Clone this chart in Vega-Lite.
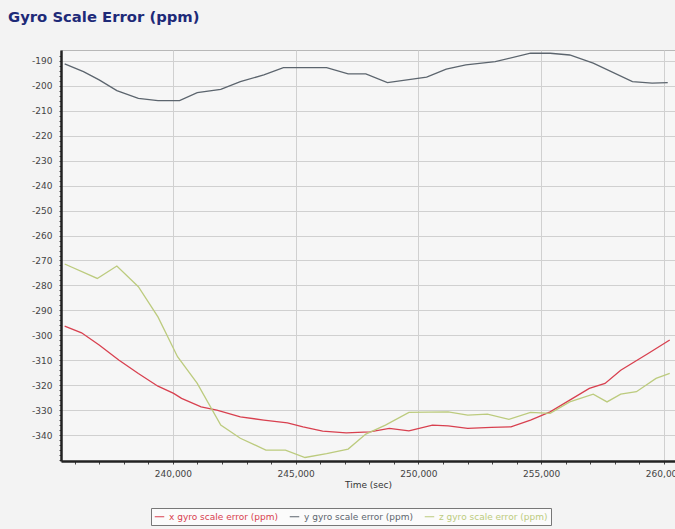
{
  "$schema": "https://vega.github.io/schema/vega-lite/v6.json",
  "autosize": {"type": "none"},
  "width": 614,
  "height": 411,
  "padding": {"left": 61, "top": 50, "right": 0, "bottom": 68},
  "background": "#f3f3f3",
  "title": {
    "text": "Gyro Scale Error (ppm)",
    "anchor": "start",
    "frame": "group",
    "dx": -53,
    "offset": 25,
    "font": "DejaVu Sans",
    "fontSize": 14.8,
    "fontWeight": "bold",
    "color": "#1e2a78"
  },
  "config": {
    "view": {"fill": "#f6f6f6", "stroke": "#b8b8b8", "strokeWidth": 1},
    "axis": {"labelFont": "DejaVu Sans", "titleFont": "DejaVu Sans", "labelColor": "#444", "titleColor": "#333", "labelFontSize": 9, "titleFontSize": 9, "titleFontWeight": "normal"}
  },
  "data": {"values": [
    {"series": "y gyro scale error (ppm)", "t": 235589, "v": -191.2},
    {"series": "y gyro scale error (ppm)", "t": 236355, "v": -194.3},
    {"series": "y gyro scale error (ppm)", "t": 236994, "v": -197.6},
    {"series": "y gyro scale error (ppm)", "t": 237715, "v": -201.9},
    {"series": "y gyro scale error (ppm)", "t": 238591, "v": -205.0},
    {"series": "y gyro scale error (ppm)", "t": 239389, "v": -205.9},
    {"series": "y gyro scale error (ppm)", "t": 240269, "v": -205.9},
    {"series": "y gyro scale error (ppm)", "t": 240990, "v": -202.7},
    {"series": "y gyro scale error (ppm)", "t": 241947, "v": -201.4},
    {"series": "y gyro scale error (ppm)", "t": 242745, "v": -198.3},
    {"series": "y gyro scale error (ppm)", "t": 243702, "v": -195.6},
    {"series": "y gyro scale error (ppm)", "t": 244500, "v": -192.7},
    {"series": "y gyro scale error (ppm)", "t": 246260, "v": -192.7},
    {"series": "y gyro scale error (ppm)", "t": 247136, "v": -195.2},
    {"series": "y gyro scale error (ppm)", "t": 247857, "v": -195.2},
    {"series": "y gyro scale error (ppm)", "t": 248737, "v": -198.7},
    {"series": "y gyro scale error (ppm)", "t": 250333, "v": -196.5},
    {"series": "y gyro scale error (ppm)", "t": 251132, "v": -193.3},
    {"series": "y gyro scale error (ppm)", "t": 251930, "v": -191.6},
    {"series": "y gyro scale error (ppm)", "t": 253128, "v": -190.3},
    {"series": "y gyro scale error (ppm)", "t": 254565, "v": -186.9},
    {"series": "y gyro scale error (ppm)", "t": 255364, "v": -186.9},
    {"series": "y gyro scale error (ppm)", "t": 256162, "v": -187.6},
    {"series": "y gyro scale error (ppm)", "t": 257119, "v": -190.9},
    {"series": "y gyro scale error (ppm)", "t": 258716, "v": -198.3},
    {"series": "y gyro scale error (ppm)", "t": 259518, "v": -198.9},
    {"series": "y gyro scale error (ppm)", "t": 260154, "v": -198.7},
    {"series": "x gyro scale error (ppm)", "t": 235589, "v": -296.3},
    {"series": "x gyro scale error (ppm)", "t": 236277, "v": -299.0},
    {"series": "x gyro scale error (ppm)", "t": 236994, "v": -303.9},
    {"series": "x gyro scale error (ppm)", "t": 237792, "v": -309.9},
    {"series": "x gyro scale error (ppm)", "t": 238591, "v": -315.3},
    {"series": "x gyro scale error (ppm)", "t": 239389, "v": -320.4},
    {"series": "x gyro scale error (ppm)", "t": 240028, "v": -323.3},
    {"series": "x gyro scale error (ppm)", "t": 240350, "v": -325.3},
    {"series": "x gyro scale error (ppm)", "t": 241148, "v": -328.7},
    {"series": "x gyro scale error (ppm)", "t": 241788, "v": -330.0},
    {"series": "x gyro scale error (ppm)", "t": 242745, "v": -332.7},
    {"series": "x gyro scale error (ppm)", "t": 243702, "v": -334.0},
    {"series": "x gyro scale error (ppm)", "t": 244663, "v": -335.1},
    {"series": "x gyro scale error (ppm)", "t": 245299, "v": -336.7},
    {"series": "x gyro scale error (ppm)", "t": 246097, "v": -338.4},
    {"series": "x gyro scale error (ppm)", "t": 247059, "v": -339.1},
    {"series": "x gyro scale error (ppm)", "t": 248016, "v": -338.7},
    {"series": "x gyro scale error (ppm)", "t": 248814, "v": -337.3},
    {"series": "x gyro scale error (ppm)", "t": 249612, "v": -338.3},
    {"series": "x gyro scale error (ppm)", "t": 250570, "v": -336.0},
    {"series": "x gyro scale error (ppm)", "t": 251209, "v": -336.3},
    {"series": "x gyro scale error (ppm)", "t": 252007, "v": -337.3},
    {"series": "x gyro scale error (ppm)", "t": 252968, "v": -336.9},
    {"series": "x gyro scale error (ppm)", "t": 253767, "v": -336.7},
    {"series": "x gyro scale error (ppm)", "t": 254565, "v": -334.0},
    {"series": "x gyro scale error (ppm)", "t": 255364, "v": -330.7},
    {"series": "x gyro scale error (ppm)", "t": 256162, "v": -326.0},
    {"series": "x gyro scale error (ppm)", "t": 256960, "v": -321.3},
    {"series": "x gyro scale error (ppm)", "t": 257600, "v": -319.3},
    {"series": "x gyro scale error (ppm)", "t": 258239, "v": -314.0},
    {"series": "x gyro scale error (ppm)", "t": 259355, "v": -307.3},
    {"series": "x gyro scale error (ppm)", "t": 260235, "v": -301.9},
    {"series": "z gyro scale error (ppm)", "t": 235589, "v": -271.4},
    {"series": "z gyro scale error (ppm)", "t": 236917, "v": -277.2},
    {"series": "z gyro scale error (ppm)", "t": 237715, "v": -272.2},
    {"series": "z gyro scale error (ppm)", "t": 238591, "v": -280.5},
    {"series": "z gyro scale error (ppm)", "t": 239389, "v": -292.6},
    {"series": "z gyro scale error (ppm)", "t": 240187, "v": -308.6},
    {"series": "z gyro scale error (ppm)", "t": 240990, "v": -319.3},
    {"series": "z gyro scale error (ppm)", "t": 241947, "v": -336.0},
    {"series": "z gyro scale error (ppm)", "t": 242745, "v": -341.3},
    {"series": "z gyro scale error (ppm)", "t": 243784, "v": -346.0},
    {"series": "z gyro scale error (ppm)", "t": 244582, "v": -346.0},
    {"series": "z gyro scale error (ppm)", "t": 245380, "v": -349.0},
    {"series": "z gyro scale error (ppm)", "t": 246260, "v": -347.4},
    {"series": "z gyro scale error (ppm)", "t": 247136, "v": -345.6},
    {"series": "z gyro scale error (ppm)", "t": 247857, "v": -339.6},
    {"series": "z gyro scale error (ppm)", "t": 248655, "v": -336.0},
    {"series": "z gyro scale error (ppm)", "t": 249612, "v": -330.9},
    {"series": "z gyro scale error (ppm)", "t": 251209, "v": -330.7},
    {"series": "z gyro scale error (ppm)", "t": 252007, "v": -332.0},
    {"series": "z gyro scale error (ppm)", "t": 252809, "v": -331.6},
    {"series": "z gyro scale error (ppm)", "t": 253685, "v": -333.7},
    {"series": "z gyro scale error (ppm)", "t": 254565, "v": -330.9},
    {"series": "z gyro scale error (ppm)", "t": 255364, "v": -331.3},
    {"series": "z gyro scale error (ppm)", "t": 256162, "v": -326.7},
    {"series": "z gyro scale error (ppm)", "t": 257119, "v": -323.6},
    {"series": "z gyro scale error (ppm)", "t": 257681, "v": -326.7},
    {"series": "z gyro scale error (ppm)", "t": 258239, "v": -323.6},
    {"series": "z gyro scale error (ppm)", "t": 258878, "v": -322.6},
    {"series": "z gyro scale error (ppm)", "t": 259677, "v": -317.3},
    {"series": "z gyro scale error (ppm)", "t": 260235, "v": -315.3}
  ]},
  "mark": {"type": "line", "strokeWidth": 1.3, "clip": true},
  "encoding": {
    "x": {
      "field": "t", "type": "quantitative",
      "scale": {"domain": [235440, 260450], "nice": false, "zero": false},
      "axis": {
        "title": "Time (sec)",
        "titlePadding": 2,
        "values": [236000, 237000, 238000, 239000, 240000, 241000, 242000, 243000, 244000, 245000, 246000, 247000, 248000, 249000, 250000, 251000, 252000, 253000, 254000, 255000, 256000, 257000, 258000, 259000, 260000],
        "labelExpr": "datum.value % 5000 === 0 ? format(datum.value, ',') : ''",
        "domainColor": "#222", "domainWidth": 2.5,
        "tickColor": "#444", "tickSize": 3,
        "labelPadding": 5,
        "grid": true,
        "gridColor": {"condition": {"test": "datum.value % 5000 === 0", "value": "#d0d0d0"}, "value": "transparent"},
        "labelFlush": false
      }
    },
    "y": {
      "field": "v", "type": "quantitative",
      "scale": {"domain": [-350.4, -185.6], "nice": false, "zero": false},
      "axis": {
        "title": null,
        "values": [-188, -190, -192, -194, -196, -198, -200, -202, -204, -206, -208, -210, -212, -214, -216, -218, -220, -222, -224, -226, -228, -230, -232, -234, -236, -238, -240, -242, -244, -246, -248, -250, -252, -254, -256, -258, -260, -262, -264, -266, -268, -270, -272, -274, -276, -278, -280, -282, -284, -286, -288, -290, -292, -294, -296, -298, -300, -302, -304, -306, -308, -310, -312, -314, -316, -318, -320, -322, -324, -326, -328, -330, -332, -334, -336, -338, -340, -342, -344, -346, -348, -350],
        "labelExpr": "(datum.value % 10 === 0 && datum.value > -345) ? '' + datum.value : ''",
        "domainColor": "#222", "domainWidth": 2.5,
        "tickColor": "#444", "tickSize": 2,
        "labelPadding": 7,
        "grid": true,
        "gridColor": {"condition": {"test": "datum.value % 10 === 0 && datum.value > -345", "value": "#d0d0d0"}, "value": "transparent"}
      }
    },
    "color": {
      "field": "series", "type": "nominal",
      "scale": {
        "domain": ["x gyro scale error (ppm)", "y gyro scale error (ppm)", "z gyro scale error (ppm)"],
        "range": ["#d8404f", "#5c656e", "#bccb7e"]
      },
      "legend": {
        "title": null,
        "orient": "none",
        "direction": "horizontal",
        "legendX": 90,
        "legendY": 458,
        "symbolType": "stroke",
        "symbolSize": 90,
        "symbolStrokeWidth": 1,
        "labelFont": "DejaVu Sans",
        "labelFontSize": 9,
        "labelColor": {"expr": "scale('color', datum.value)"},
        "columnPadding": 8,
        "labelOffset": 4,
        "padding": 3,
        "strokeColor": "#777",
        "fillColor": "#fbfbfb",
        "labelLimit": 300
      }
    }
  }
}
